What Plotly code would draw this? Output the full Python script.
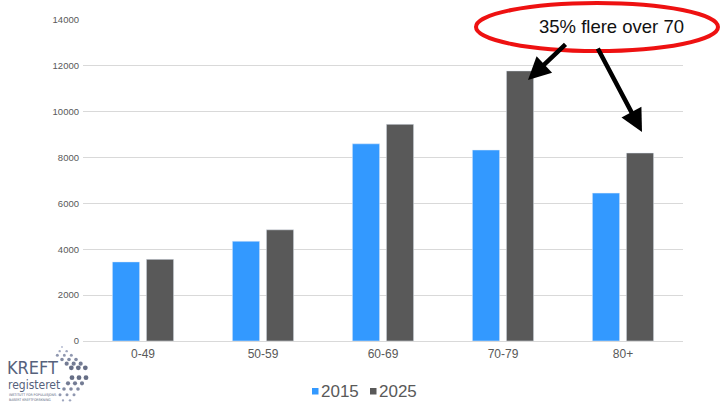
import plotly.graph_objects as go

# Age groups and projected counts
age_groups = ["0-49", "50-59", "60-69", "70-79", "80+"]
values_2015 = [3450, 4350, 8600, 8330, 6450]
values_2025 = [3560, 4850, 9450, 11780, 8200]
y_ticks = [0, 2000, 4000, 6000, 8000, 10000, 12000, 14000]
series_names = ["2015", "2025"]

W, H = 720, 403
ML, MR, MT, MB = 83, 37, 20, 62
PW, PH = W - ML - MR, H - MT - MB


def px(x):
    return (x - ML) / PW


def py(y):
    return 1 - (y - MT) / PH


BLUE = "#3399FF"
GREY = "#595959"
TXT = "#595959"
colors = [BLUE, GREY]

fig = go.Figure()
for name, vals, col in zip(series_names, [values_2015, values_2025], colors):
    fig.add_bar(x=age_groups, y=vals, name=name, marker_color=col, showlegend=False)

shapes = []
annotations = []

# Callout ellipse with text
shapes.append(dict(type="circle", xref="paper", yref="paper",
                   x0=px(476), x1=px(718), y0=py(51), y1=py(3),
                   line=dict(color="#EE1111", width=4), fillcolor="rgba(0,0,0,0)"))
annotations.append(dict(x=px(611), y=py(26), xref="paper", yref="paper",
                        xanchor="center", yanchor="middle",
                        text="35% flere over 70", showarrow=False,
                        font=dict(family="Liberation Sans, Arial", size=18.5, color="#111111")))

# Arrows towards the 70+ bars
annotations.append(dict(x=px(528), y=py(80), xref="paper", yref="paper", text="",
                        showarrow=True, arrowhead=2, arrowsize=1, arrowwidth=4.5,
                        arrowcolor="black", ax=39, ay=-37, standoff=0))
annotations.append(dict(x=px(642), y=py(132), xref="paper", yref="paper", text="",
                        showarrow=True, arrowhead=2, arrowsize=1, arrowwidth=4.5,
                        arrowcolor="black", ax=-45, ay=-85, standoff=0))

# Legend drawn as squares + labels below the axis
legend_items = [(312, 319), (370, 377)]
for (sq_x, tx), name, col in zip(legend_items, series_names, colors):
    shapes.append(dict(type="rect", xref="paper", yref="paper",
                       x0=px(sq_x), x1=px(sq_x + 6.5), y0=py(394.5), y1=py(388),
                       line=dict(width=0), fillcolor=col))
    annotations.append(dict(x=px(tx), y=py(392), xref="paper", yref="paper",
                            xanchor="left", yanchor="middle", text=name, showarrow=False,
                            font=dict(family="Liberation Sans, Arial", size=17, color=TXT)))

# Logo text
LOGO = "#56627C"
NARROW = "Liberation Sans Narrow, DejaVu Sans Condensed, Liberation Sans"
annotations.append(dict(x=px(5), y=py(367), xref="paper", yref="paper", xanchor="left",
                        yanchor="middle", text="KREFT", showarrow=False,
                        font=dict(family=NARROW, size=18, color=LOGO)))
annotations.append(dict(x=px(6), y=py(385), xref="paper", yref="paper", xanchor="left",
                        yanchor="middle", text="registeret", showarrow=False,
                        font=dict(family=NARROW, size=12, color=LOGO)))
annotations.append(dict(x=px(7), y=py(398), xref="paper", yref="paper", xanchor="left",
                        yanchor="middle", text="INSTITUTT FOR POPULASJONS-<br>BASERT KREFTFORSKNING",
                        showarrow=False, align="left",
                        font=dict(family=NARROW, size=3.5, color=LOGO)))

# Logo dot chevron
tip_x, tip_y = 90, 372
for row in range(3):
    for sx, sy in [(62, 347), (66, 406)]:
        n = 6 - row
        for k in range(n):
            t = (k + row) / 6
            cx = sx + (tip_x - sx) * t - 7 * row
            cy = sy + (tip_y - sy) * t
            r = 0.9 + 1.8 * t
            shade = int(185 - 85 * t)
            col = f"rgb({shade - 12},{shade - 4},{shade + 20})"
            shapes.append(dict(type="circle", xref="paper", yref="paper",
                               x0=px(cx - r), x1=px(cx + r), y0=py(cy + r), y1=py(cy - r),
                               line=dict(width=0), fillcolor=col))

fig.update_layout(
    width=W, height=H,
    margin=dict(l=ML, r=MR, t=MT, b=MB, autoexpand=False),
    paper_bgcolor="white", plot_bgcolor="white",
    barmode="group", bargap=0.433, bargroupgap=0.2,
    font=dict(family="Liberation Sans, Arial", color=TXT),
    showlegend=False,
    shapes=shapes, annotations=annotations,
)
fig.update_xaxes(showgrid=False, showline=False, ticks="", tickfont=dict(size=12, color=TXT),
                 ticklabelstandoff=4)
fig.update_yaxes(range=[0, 14000], tickvals=y_ticks, ticktext=[str(v) for v in y_ticks],
                 showgrid=True, gridcolor="#D9D9D9",
                 gridwidth=1, zeroline=True, zerolinecolor="#D9D9D9", zerolinewidth=1,
                 tickfont=dict(size=9.5, color=TXT), ticklabelstandoff=3)

fig.write_html("out.html")
